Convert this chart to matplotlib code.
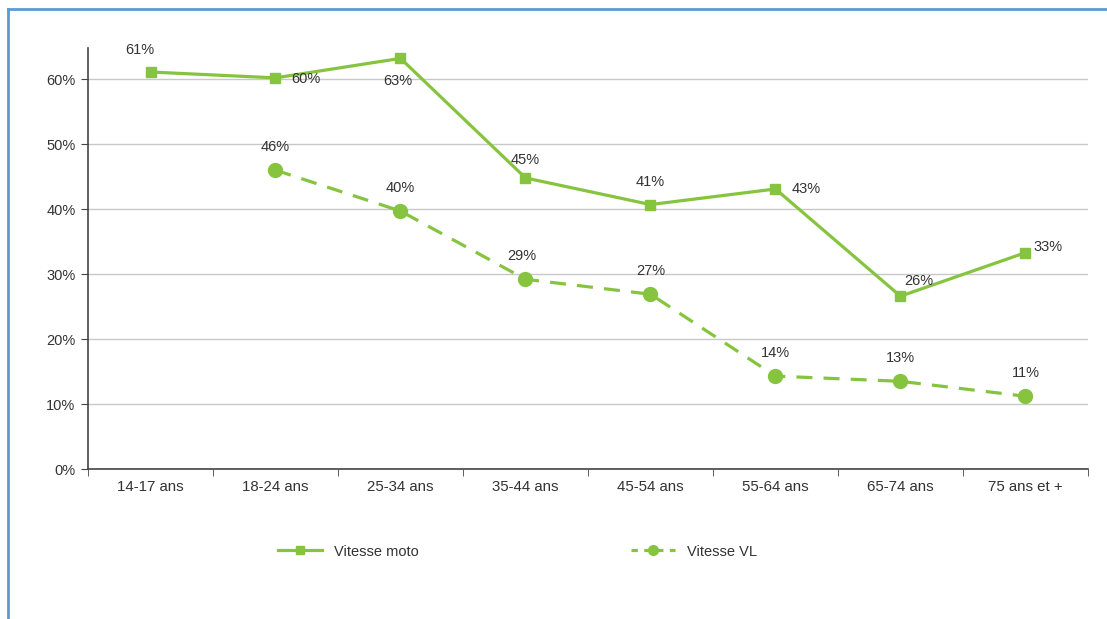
import numpy as np
import matplotlib
matplotlib.use("Agg")
import matplotlib.pyplot as plt
from matplotlib.lines import Line2D
from matplotlib.ticker import FixedLocator, NullFormatter

# data
categories = ["14-17 ans", "18-24 ans", "25-34 ans", "35-44 ans",
              "45-54 ans", "55-64 ans", "65-74 ans", "75 ans et +"]
moto = [61.1, 60.2, 63.2, 44.8, 40.7, 43.1, 26.6, 33.3]
vl = [np.nan, 46.0, 39.7, 29.2, 26.9, 14.3, 13.5, 11.2]
moto_labels = ["61%", "60%", "63%", "45%", "41%", "43%", "26%", "33%"]
vl_labels = ["", "46%", "40%", "29%", "27%", "14%", "13%", "11%"]
yticks = [0, 10, 20, 30, 40, 50, 60]

green = "#86c440"
text_col = "#333333"

plt.rcParams["font.family"] = ["Liberation Sans", "DejaVu Sans"]

fig = plt.figure(figsize=(11.07, 6.19), dpi=100)
ax = fig.add_axes([0.0795, 0.2423, 0.9033, 0.6802])

x = np.arange(len(categories))
ax.plot(x, moto, color=green, lw=2.3, marker="s", ms=7, label="Vitesse moto", zorder=3)
ax.plot(x, vl, color=green, lw=2.3, ls=(0, (5, 3.5)), marker="o", ms=10,
        label="Vitesse VL", zorder=3)

# label positions for the moto series (offset in points)
moto_off = [(-8, 16), (22, -1), (-2, -16), (0, 13), (0, 16), (22, 0), (13, 11), (16, 4)]
for xi, v, lab, off in zip(x, moto, moto_labels, moto_off):
    ax.annotate(lab, (xi, v), xytext=off, textcoords="offset points",
                ha="center", va="center", fontsize=10.5, color=text_col)
vl_off = [(0, 0), (0, 16.5), (0, 16.5), (-3, 16.5), (0, 17), (0, 16.5), (0, 16.5), (0, 16.5)]
for xi, v, lab, off in zip(x, vl, vl_labels, vl_off):
    if lab:
        ax.annotate(lab, (xi, v), xytext=off, textcoords="offset points",
                    ha="center", va="center", fontsize=10.5, color=text_col)

ax.set_xlim(-0.5, len(categories) - 0.5)
ax.set_ylim(0, 64.8)
ax.set_yticks(yticks)
ax.set_yticklabels([f"{t}%" for t in yticks], fontsize=10.5, color=text_col)
ax.yaxis.grid(True, color="#c8c8c8", lw=1)
ax.set_axisbelow(True)

ax.set_xticks(x)
ax.set_xticklabels(categories, fontsize=10.8, color=text_col)
ax.tick_params(axis="x", length=0, pad=8)
ax.xaxis.set_minor_locator(FixedLocator(np.arange(-0.5, len(categories), 1.0)))
ax.xaxis.set_minor_formatter(NullFormatter())
ax.tick_params(axis="x", which="minor", length=5, color="#444444")
ax.tick_params(axis="y", length=5, color="#444444", pad=4)

for s in ["top", "right"]:
    ax.spines[s].set_visible(False)
for s in ["left", "bottom"]:
    ax.spines[s].set_color("#444444")
    ax.spines[s].set_linewidth(1.2)

handles = [
    Line2D([], [], color=green, lw=2.3, marker="s", ms=6),
    Line2D([], [], color=green, lw=2.3, ls=(0, (2, 2)), marker="o", ms=7),
]
fig.legend(handles, ["Vitesse moto", "Vitesse VL"], loc="center left",
           bbox_to_anchor=(265 / 1107, 0.109), ncol=2, frameon=False, fontsize=10.5,
           columnspacing=14.6, handlelength=3, labelcolor=text_col)

# blue frame round the chart
fig.add_artist(Line2D([8 / 1107, 8 / 1107], [0, 1 - 9 / 619],
                      transform=fig.transFigure, color="#5b9bd5", lw=2))
fig.add_artist(Line2D([8 / 1107, 1], [1 - 9 / 619, 1 - 9 / 619],
                      transform=fig.transFigure, color="#5b9bd5", lw=2))

fig.savefig("out.png", dpi=100)
